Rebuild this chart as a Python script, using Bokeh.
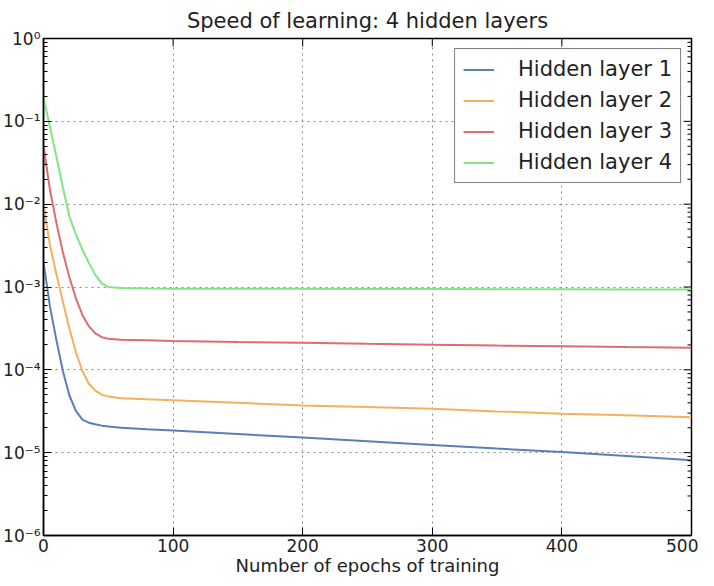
import math
from bokeh.plotting import figure
from bokeh.models import FixedTicker, CustomJSTickFormatter
from bokeh.embed import file_html
from bokeh.resources import INLINE

# ---- data ----
epochs = [0, 5, 10, 15, 20, 25, 30, 35, 40, 45, 50, 60, 80, 100,
          150, 200, 250, 300, 350, 400, 450, 500]
layer1 = [2.0e-3, 5.8e-4, 2.27e-4, 9.6e-5, 4.9e-5, 3.2e-5, 2.5e-5, 2.3e-5,
          2.2e-5, 2.12e-5, 2.07e-5, 2.0e-5, 1.92e-5, 1.85e-5,
          1.68e-5, 1.52e-5, 1.37e-5, 1.24e-5, 1.12e-5, 1.02e-5, 9.1e-6, 8.1e-6]
layer2 = [1.0e-2, 3.2e-3, 1.41e-3, 6.6e-4, 3.15e-4, 1.63e-4, 9.7e-5, 6.8e-5,
          5.6e-5, 5.0e-5, 4.75e-5, 4.55e-5, 4.4e-5, 4.3e-5,
          4.0e-5, 3.7e-5, 3.55e-5, 3.4e-5, 3.15e-5, 2.95e-5, 2.82e-5, 2.68e-5]
layer3 = [5.1e-2, 1.48e-2, 5.9e-3, 2.6e-3, 1.3e-3, 7.3e-4, 4.6e-4, 3.35e-4,
          2.75e-4, 2.48e-4, 2.38e-4, 2.31e-4, 2.27e-4, 2.23e-4,
          2.17e-4, 2.12e-4, 2.06e-4, 2.01e-4, 1.96e-4, 1.92e-4, 1.88e-4, 1.85e-4]
layer4 = [1.95e-1, 8.5e-2, 3.7e-2, 1.58e-2, 7.1e-3, 4.3e-3, 2.85e-3, 1.95e-3,
          1.4e-3, 1.1e-3, 1.0e-3, 9.7e-4, 9.6e-4, 9.55e-4,
          9.5e-4, 9.5e-4, 9.45e-4, 9.45e-4, 9.4e-4, 9.4e-4, 9.35e-4, 9.3e-4]
series = [("Hidden layer 1", layer1), ("Hidden layer 2", layer2),
          ("Hidden layer 3", layer3), ("Hidden layer 4", layer4)]
colors = ["#5a7fb5", "#f2b25c", "#e06a70", "#80e680"]

x_ticks = [0, 100, 200, 300, 400, 500]
y_ticks = [1e-6, 1e-5, 1e-4, 1e-3, 1e-2, 1e-1, 1e0]
y_minor = [m * 10.0 ** k for k in range(-6, 0) for m in range(2, 10)]
x_lo, x_hi = 0, 500
y_lo, y_hi = 1e-6, 1e0

FONT = "DejaVu Sans"

p = figure(width=698, height=578, y_axis_type="log",
           x_range=(x_lo, x_hi), y_range=(y_lo, y_hi),
           output_backend="svg", toolbar_location=None,
           title="Speed of learning: 4 hidden layers",
           min_border_left=0, min_border_right=7,
           min_border_top=0, min_border_bottom=0)

p.background_fill_color = "white"
p.border_fill_color = "white"
p.outline_line_color = "black"
p.outline_line_width = 1.5

p.title.align = "center"
p.title.text_font = FONT
p.title.text_font_style = "normal"
p.title.text_font_size = "21px"
p.title.text_color = "#222222"
p.title.standoff = 12

xt = FixedTicker(ticks=x_ticks)
yt = FixedTicker(ticks=y_ticks, minor_ticks=y_minor)
fmt = CustomJSTickFormatter(code="""
const e = Math.round(Math.log10(tick));
const sup = {'-':'\u207b','0':'\u2070','1':'\u00b9','2':'\u00b2','3':'\u00b3',
             '4':'\u2074','5':'\u2075','6':'\u2076','7':'\u2077','8':'\u2078','9':'\u2079'};
return '10' + String(e).split('').map(c => sup[c]).join('');
""")

xa = p.xaxis[0]
xa.ticker = xt
ya = p.yaxis[0]
ya.ticker = yt
ya.formatter = fmt

for ax in (xa, ya):
    ax.axis_line_color = "black"
    ax.axis_line_width = 1.5
    ax.major_tick_in = 8
    ax.major_tick_out = 0
    ax.minor_tick_in = 4
    ax.minor_tick_out = 0
    ax.major_tick_line_color = "black"
    ax.minor_tick_line_color = "black"
    ax.major_label_text_font = FONT
    ax.major_label_text_font_size = "17px"
    ax.major_label_text_color = "#222222"
    ax.major_label_standoff = 3
xa.minor_tick_line_color = None
xa.axis_label = "Number of epochs of training"
xa.axis_label_text_font = FONT
xa.axis_label_text_font_size = "18px"
xa.axis_label_text_font_style = "normal"
xa.axis_label_text_color = "#222222"
xa.axis_label_standoff = 0

p.xgrid.ticker = xt
p.ygrid.ticker = yt
for g in (p.xgrid[0], p.ygrid[0]):
    g.grid_line_color = "#888888"
    g.grid_line_dash = "2 4"
    g.grid_line_width = 1

for (name, vals), c in zip(series, colors):
    p.line(epochs, vals, line_color=c, line_width=2, legend_label=name)

# mirrored inward ticks on the right and top edges (clipped to the frame)
p.scatter(x=[x_hi] * len(y_ticks), y=y_ticks, marker="dash", size=16,
          line_color="black", line_width=1)
p.scatter(x=[x_hi] * len(y_minor), y=y_minor, marker="dash", size=8,
          line_color="black", line_width=1)
p.scatter(x=x_ticks, y=[y_hi] * len(x_ticks), marker="dash", size=16,
          angle=math.pi / 2, line_color="black", line_width=1)

lg = p.legend[0]
lg.location = "top_right"
lg.label_text_font = FONT
lg.label_text_font_size = "21px"
lg.label_text_color = "#222222"
lg.border_line_color = "black"
lg.border_line_width = 1.5
lg.background_fill_alpha = 1
lg.padding = 8
lg.margin = 10
lg.spacing = 7
lg.label_height = 23
lg.glyph_height = 23
lg.glyph_width = 31
lg.label_standoff = 24

open("out.html", "w").write(file_html(p, INLINE))
